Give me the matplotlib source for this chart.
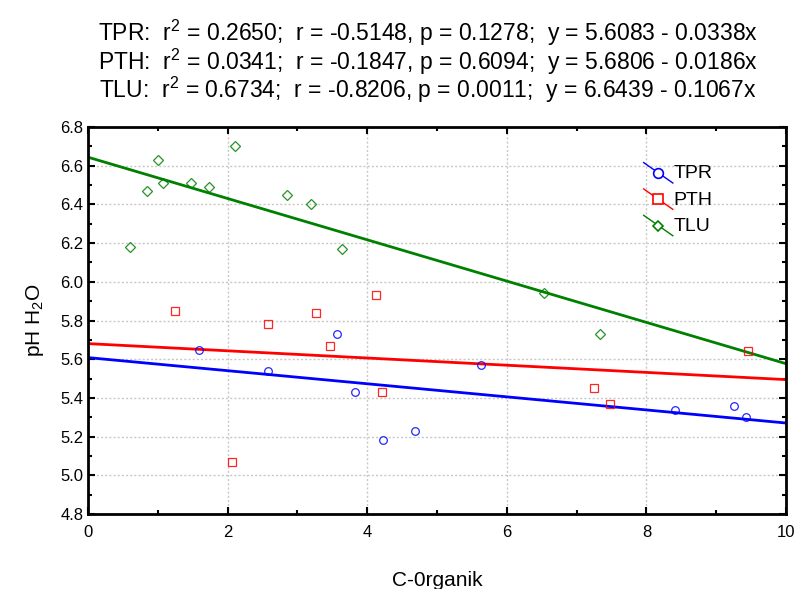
"""Scatter of pH H2O against C-organik with linear fits for three sites."""

import matplotlib

matplotlib.use("Agg")

import matplotlib.pyplot as plt
import numpy as np
from matplotlib.legend_handler import HandlerLine2D
from matplotlib.lines import Line2D
from matplotlib.ticker import FormatStrFormatter, MultipleLocator

plt.rcParams["font.family"] = ["Liberation Sans", "DejaVu Sans"]
plt.rcParams["mathtext.fontset"] = "custom"
plt.rcParams["mathtext.rm"] = "Liberation Sans"
plt.rcParams["mathtext.it"] = "Liberation Sans"

series_names = ["TPR", "PTH", "TLU"]
series_colors = ["#0000ff", "#ff0000", "#008000"]
series_markers = ["o", "s", "D"]

tpr_x = [1.59, 2.58, 3.57, 3.83, 4.23, 4.68, 5.63, 8.41, 9.26, 9.43]
tpr_y = [5.65, 5.54, 5.73, 5.43, 5.18, 5.23, 5.57, 5.34, 5.36, 5.30]

pth_x = [1.25, 2.06, 2.58, 3.27, 3.47, 4.13, 4.21, 7.25, 7.48, 9.46]
pth_y = [5.85, 5.07, 5.78, 5.84, 5.67, 5.93, 5.43, 5.45, 5.37, 5.64]

tlu_x = [0.60, 0.85, 1.00, 1.07, 1.48, 1.73, 2.11, 2.85, 3.19, 3.64, 6.53, 7.34]
tlu_y = [6.18, 6.47, 6.63, 6.51, 6.51, 6.49, 6.70, 6.45, 6.40, 6.17, 5.94, 5.73]

fit_intercepts = [5.6083, 5.6806, 6.6439]
fit_slopes = [-0.0338, -0.0186, -0.1067]

title_lines = [
    "TPR:  r$^2$ = 0.2650;  r = -0.5148, p = 0.1278;  y = 5.6083 - 0.0338x",
    "PTH:  r$^2$ = 0.0341;  r = -0.1847, p = 0.6094;  y = 5.6806 - 0.0186x",
    "TLU:  r$^2$ = 0.6734;  r = -0.8206, p = 0.0011;  y = 6.6439 - 0.1067x",
]


class DiagonalHandler(HandlerLine2D):
    """Legend key drawn as a falling diagonal with the marker in the middle."""

    def create_artists(self, legend, orig_handle, xdescent, ydescent,
                       width, height, fontsize, trans):
        x0, x1 = -xdescent, -xdescent + width
        y0, y1 = -ydescent + height * 1.15, -ydescent - height * 0.35
        line = Line2D([x0, x1], [y0, y1], color=orig_handle.get_color(),
                      linewidth=1.0, transform=trans)
        size = {"o": 7, "s": 7.5, "D": 5.5}[orig_handle.get_marker()]
        mark = Line2D([(x0 + x1) / 2], [(y0 + y1) / 2],
                      marker=orig_handle.get_marker(), markersize=size,
                      markerfacecolor="white", linestyle="none",
                      markeredgecolor=orig_handle.get_color(),
                      markeredgewidth=1.2, transform=trans)
        return [line, mark]


fig = plt.figure(figsize=(7.97, 5.89), dpi=100)
ax = fig.add_axes([0.1104, 0.1273, 0.8758, 0.6571])

xs = [tpr_x, pth_x, tlu_x]
ys = [tpr_y, pth_y, tlu_y]
line_x = np.array([0.0, 10.0])
handles = []
for name, color, marker, x, y, b0, b1 in zip(
    series_names, series_colors, series_markers, xs, ys, fit_intercepts, fit_slopes
):
    ax.plot(x, y, linestyle="none", marker=marker,
            markersize=5 if marker == "D" else 5.5,
            markerfacecolor="none", markeredgecolor=color,
            markeredgewidth=0.9, alpha=0.85, zorder=3)
    ax.plot(line_x, b0 + b1 * line_x, color=color, linewidth=2.0, zorder=2)
    handles.append(Line2D([], [], color=color, marker=marker, label=name))

ax.set_xlim(0, 10)
ax.set_ylim(4.8, 6.8)
ax.xaxis.set_major_locator(MultipleLocator(2))
ax.xaxis.set_minor_locator(MultipleLocator(1))
ax.yaxis.set_major_locator(MultipleLocator(0.2))
ax.yaxis.set_minor_locator(MultipleLocator(0.1))
ax.yaxis.set_major_formatter(FormatStrFormatter("%.1f"))
ax.tick_params(which="both", direction="in", top=True, right=True,
               width=1.5, labelsize=12)
ax.tick_params(which="major", length=5)
ax.tick_params(which="minor", length=3)
ax.tick_params(axis="x", pad=8)
for spine in ax.spines.values():
    spine.set_linewidth(2.0)
ax.grid(True, which="major", color="#c8c8c8", linestyle=(0, (1.5, 1.5)),
        linewidth=1.0)

ax.set_xlabel("C-0rganik", fontsize=15, labelpad=22)
ax.set_ylabel("pH H$_2$O", fontsize=15, labelpad=10)

ax.legend(handles=handles, loc="upper left", bbox_to_anchor=(0.771, 0.948),
          frameon=False, fontsize=14, handlelength=1.5, handletextpad=0.05,
          labelspacing=0.45, handler_map={Line2D: DiagonalHandler()})

for i, text in enumerate(title_lines):
    fig.text(0.537, 0.944 - i * 0.0485, text, ha="center", va="center",
             fontsize=16.5)

fig.savefig("out.png", dpi=100)
